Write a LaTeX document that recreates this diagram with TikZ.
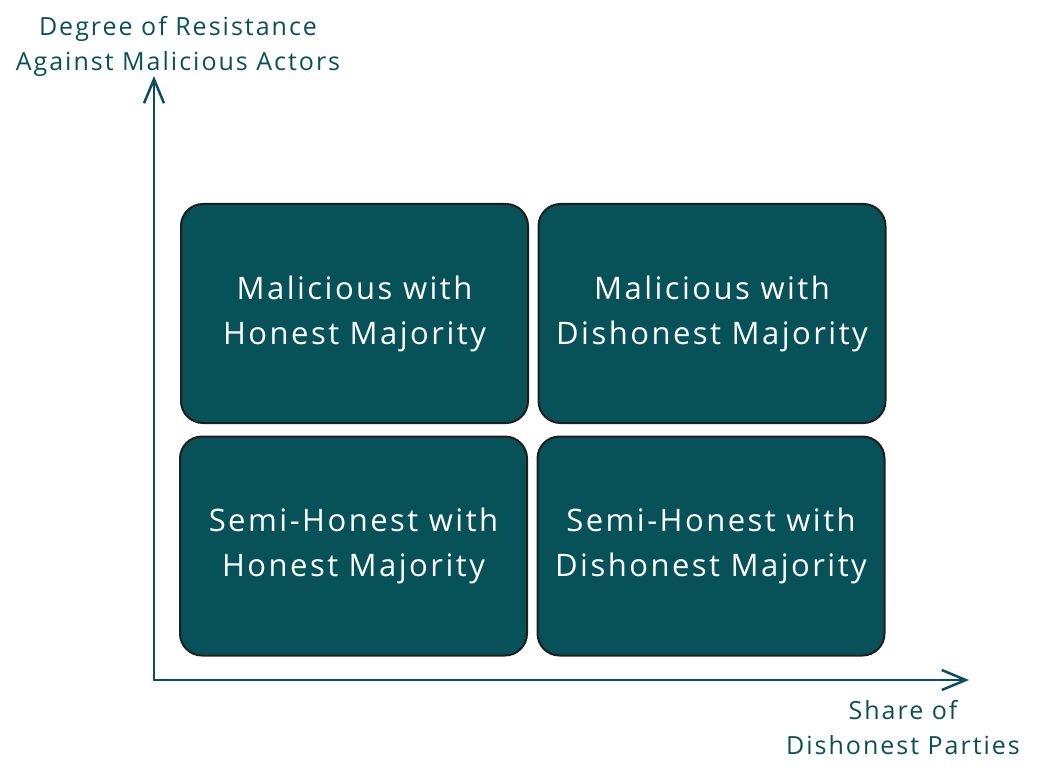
\documentclass[tikz,border=0pt]{standalone}
\usepackage{fontspec}
\setmainfont{Open Sans}[LetterSpace=8]
\usepackage{tikz}
\usetikzlibrary{arrows.meta}
\definecolor{tealbox}{HTML}{075258}
\definecolor{tealtext}{HTML}{0B5058}
\definecolor{edgegray}{HTML}{1E1E1E}

\begin{document}
\begin{tikzpicture}[x=1pt,y=-1pt,
    quad/.style={draw=edgegray, fill=tealbox, line width=2pt, rounded corners=22pt,
      minimum width=347pt, minimum height=219pt, text=white, align=center,
      font=\fontsize{31}{45}\selectfont},
    axis/.style={draw=tealtext, line width=2.5pt, line cap=round,
      -{Straight Barb[length=24pt,width=20pt,line width=2.5pt]}},
    axislabel/.style={text=tealtext, align=center, font=\fontsize{25}{35}\selectfont}]
			\useasboundingbox (0,0) rectangle (1037,773);
			\node[quad] (mhm) at (354.5,313.5) {Malicious with\\Honest Majority};
			\node[quad] (mdm) at (712,313.5) {Malicious with\\Dishonest Majority};
			\node[quad] (shm) at (353.5,546) {Semi-Honest with\\Honest Majority};
			\node[quad] (sdm) at (711,546) {Semi-Honest with\\Dishonest Majority};
			\coordinate (origin) at (154,680);
			\coordinate (ytip) at (154,76);
			\coordinate (xtip) at (969,680);
			\draw[axis] (origin) -- (ytip);
			\draw[axis] (origin) -- (xtip);
			\node[axislabel] (ylabel) at (178,46) {Degree of Resistance\\Against Malicious Actors};
			\node[axislabel] (xlabel) at (903,728) {Share of\\Dishonest Parties};
		\end{tikzpicture}
\end{document}
